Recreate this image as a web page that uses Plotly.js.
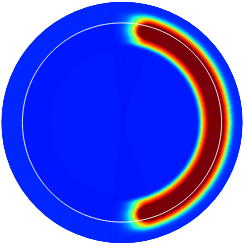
<!DOCTYPE html>
<html><head><meta charset="utf-8">
<script src="https://cdn.plot.ly/plotly-3.0.1.min.js"></script>
<style>html,body{margin:0;padding:0;background:#fff;}#plot{width:245px;height:245px;}</style>
</head><body><div id="plot"></div>
<script>
// Radial samples (ring centres) and the excess field level along the arc at each radius
const radii = [0.74,0.75,0.76,0.77,0.78,0.79,0.80,0.81,0.82,0.83,0.84,0.85,
  0.86,0.87,0.88,0.89,0.90,0.91,0.92,0.93,0.94,0.95,0.96,0.97,0.98,0.99,
  1.00,1.01,1.02,1.03,1.04,1.05,1.06,1.07,1.08,1.09,1.10,1.11,1.12,1.13,1.14,1.15,1.16,1.17,1.18,1.19,1.20,1.21];
const arcExcess = [0,0.005,0.01,0.04,0.10,0.20,0.35,0.50,0.57,0.63,0.69,0.74,
  0.78,0.85,0.95,1.05,1.13,1.20,1.25,1.29,1.30,1.30,1.28,1.25,1.20,1.13,
  1.05,0.97,0.90,0.80,0.73,0.68,0.62,0.53,0.43,0.31,0.21,0.14,0.08,0.04,0.02,0.01,0.005,0,0,0,0,0];
const interiorLevel = 0.15;
const outerLevel = 0.165;
const ringRadius = 1.0;
const rMax = 1.21;
// Angular extent of the arc (degrees, 0 = right, counter-clockwise), symmetric top/bottom
const arcFullAngle = 70;
const arcEndAngles = [71,72,73,74,75,76,77,78,79,80,81,82,83,84,85,86,87,88,89,90,91,92,93,94,95,96];
const arcEndWeights = [1,1,1,0.998,0.978,0.938,0.879,0.806,0.723,0.634,0.543,0.456,0.374,0.300,0.235,0.180,0.135,0.099,0.071,0.050,0.034,0.023,0.015,0.010,0.006,0.004];

const jet = [[0,'rgb(0,0,128)'],[0.11,'rgb(0,0,255)'],[0.125,'rgb(0,0,255)'],[0.34,'rgb(0,219,255)'],
  [0.35,'rgb(0,230,247)'],[0.375,'rgb(20,255,226)'],[0.64,'rgb(239,255,8)'],[0.65,'rgb(247,245,0)'],
  [0.66,'rgb(255,236,0)'],[0.89,'rgb(255,19,0)'],[0.91,'rgb(232,0,0)'],[1,'rgb(128,0,0)']];

// angle bins: one plateau bin, 1-degree bins over each arc end, one bin for the empty left side
const angCenters = [0], angWidths = [2*arcFullAngle + 1], angW = [1];
const lastEnd = arcEndAngles[arcEndAngles.length - 1];
for (let k = 0; k < arcEndAngles.length; k++) {
  angCenters.push(arcEndAngles[k]); angWidths.push(1); angW.push(arcEndWeights[k]);
  angCenters.push(-arcEndAngles[k]); angWidths.push(1); angW.push(arcEndWeights[k]);
}
angCenters.push(180); angWidths.push(360 - 2*(lastEnd + 0.5)); angW.push(0);

const T = [], W = [], R = [], B = [], C = [];
const half = 0.005;
for (let j = 0; j < angCenters.length; j++) {
  T.push(angCenters[j]); W.push(angWidths[j]); B.push(0); R.push(radii[0] - half); C.push(interiorLevel);
  for (let i = 0; i < radii.length; i++) {
    const r0 = radii[i] - half, r1 = Math.min(radii[i] + half, rMax);
    const base = radii[i] < ringRadius ? interiorLevel : outerLevel;
    const v = Math.min(1, base + arcExcess[i] * angW[j]);
    T.push(angCenters[j]); W.push(angWidths[j]); B.push(r0); R.push(r1 - r0); C.push(v);
  }
}

const ringTheta = [];
for (let t = 0; t <= 360; t += 2) ringTheta.push(t);

const traces = [
  {type:'barpolar', theta:T, r:R, base:B, width:W, hoverinfo:'skip',
   marker:{color:C, colorscale:jet, cmin:0, cmax:1, showscale:false,
     line:{width:0.6, color:C, colorscale:jet, cmin:0, cmax:1}}},
  {type:'scatterpolar', mode:'lines', theta:ringTheta, r:ringTheta.map(()=>ringRadius),
   line:{color:'rgba(255,255,255,0.9)', width:1}, hoverinfo:'skip'}
];
const layout = {
  width:245, height:245, margin:{l:1,r:2,t:2,b:2}, showlegend:false,
  paper_bgcolor:'#fff',
  polar:{bgcolor:'rgb(0,26,255)', bargap:0, domain:{x:[0,1],y:[0,1]},
    radialaxis:{visible:false, range:[0,rMax]},
    angularaxis:{visible:false}}
};
Plotly.newPlot('plot', traces, layout, {staticPlot:true, displayModeBar:false});
</script></body></html>
